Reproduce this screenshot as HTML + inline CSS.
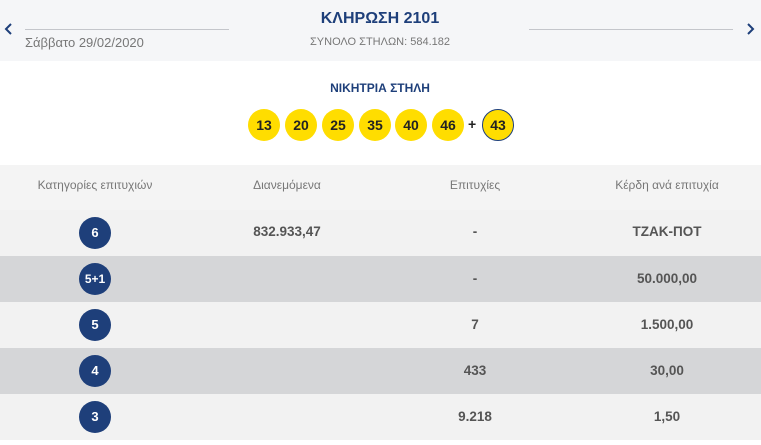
<!DOCTYPE html>
<html><head><meta charset="utf-8"><style>
*{margin:0;padding:0;box-sizing:border-box}
body{width:761px;height:445px;background:#fff;font-family:"Liberation Sans",sans-serif;position:relative;overflow:hidden}
.a{position:absolute}
.hdr{left:0;top:0;width:761px;height:61px;background:#f5f6f8}
.ball{position:absolute;width:32px;height:32px;border-radius:50%;background:#ffdd00;color:#222;font-weight:bold;font-size:14px;text-align:center;line-height:32px;top:109px}
.row{position:absolute;left:0;width:761px;height:46px}
.c{position:absolute;text-align:center;font-weight:bold;font-size:13.5px;color:#555;line-height:46px}
.circ{position:absolute;left:79px;top:7px;width:32px;height:32px;border-radius:50%;background:#1e3f7a;color:#fff;font-weight:bold;font-size:13px;text-align:center;line-height:32px}
.th{position:absolute;top:178px;font-size:12px;color:#777;text-align:center}
</style></head><body>
<div class="a hdr"></div>
<div class="a" style="left:25px;top:29px;width:204px;height:1px;background:#c4c6cb"></div>
<div class="a" style="left:529px;top:29px;width:204px;height:1px;background:#c4c6cb"></div>
<svg class="a" style="left:4px;top:23px" width="10" height="12"><path d="M7 1 L2 6 L7 11" stroke="#1e3f7a" stroke-width="2" fill="none"/></svg>
<svg class="a" style="left:745px;top:23px" width="10" height="12"><path d="M3 1 L8 6 L3 11" stroke="#1e3f7a" stroke-width="2" fill="none"/></svg>
<div class="a" style="left:25px;top:35px;font-size:13px;color:#777">Σάββατο 29/02/2020</div>
<div class="a" style="left:230px;top:10px;width:300px;text-align:center;font-size:16px;font-weight:bold;color:#1e3f7a">ΚΛΗΡΩΣΗ 2101</div>
<div class="a" style="left:230px;top:36px;width:300px;text-align:center;font-size:11px;color:#777">ΣΥΝΟΛΟ ΣΤΗΛΩΝ: 584.182</div>
<div class="a" style="left:230px;top:81px;width:300px;text-align:center;font-size:12px;font-weight:bold;color:#1e3f7a">ΝΙΚΗΤΡΙΑ ΣΤΗΛΗ</div>
<div class="ball" style="left:248px">13</div>
<div class="ball" style="left:285px">20</div>
<div class="ball" style="left:322px">25</div>
<div class="ball" style="left:359px">35</div>
<div class="ball" style="left:395px">40</div>
<div class="ball" style="left:432px">46</div>
<div class="a" style="left:468px;top:116px;font-size:14px;font-weight:bold;color:#222">+</div>
<div class="ball" style="left:482px;border:1px solid #1e3f7a;line-height:30px">43</div>
<div class="a" style="left:0;top:165px;width:761px;height:45px;background:#f4f4f4"></div>
<div class="th" style="left:0;width:190px">Κατηγορίες επιτυχιών</div>
<div class="th" style="left:187px;width:200px">Διανεμόμενα</div>
<div class="th" style="left:375px;width:200px">Επιτυχίες</div>
<div class="th" style="left:567px;width:200px">Κέρδη ανά επιτυχία</div>

<div class="row" style="top:210px;background:#f2f2f2"><div class="circ">6</div><div class="c" style="left:187px;width:200px;line-height:44px">832.933,47</div><div class="c" style="left:375px;width:200px;line-height:44px">-</div><div class="c" style="left:567px;width:200px;line-height:44px">ΤΖΑΚ-ΠΟΤ</div></div>
<div class="row" style="top:256px;background:#d5d6d8"><div class="circ" style="font-size:12px">5+1</div><div class="c" style="left:375px;width:200px">-</div><div class="c" style="left:567px;width:200px">50.000,00</div></div>
<div class="row" style="top:302px;background:#f2f2f2"><div class="circ">5</div><div class="c" style="left:375px;width:200px">7</div><div class="c" style="left:567px;width:200px">1.500,00</div></div>
<div class="row" style="top:348px;background:#d5d6d8"><div class="circ">4</div><div class="c" style="left:375px;width:200px">433</div><div class="c" style="left:567px;width:200px">30,00</div></div>
<div class="row" style="top:394px;background:#f2f2f2"><div class="circ">3</div><div class="c" style="left:375px;width:200px">9.218</div><div class="c" style="left:567px;width:200px">1,50</div></div>
</body></html>
